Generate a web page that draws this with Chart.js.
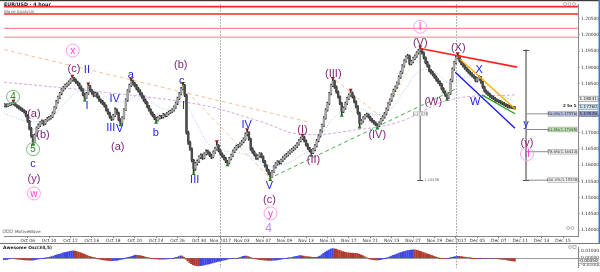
<!DOCTYPE html>
<html>
<head>
<meta charset="utf-8">
<script src="https://cdn.jsdelivr.net/npm/chart.js@4.4.1/dist/chart.umd.min.js"></script>
<style>
  html, body { margin: 0; padding: 0; background: #fff; }
  #wrap { position: relative; width: 600px; height: 272px; overflow: hidden; background: #fff; }
  #main { position: absolute; left: 0; top: 0; }
  #ao { position: absolute; left: 0; top: 243px; }
</style>
</head>
<body>
<div id="wrap">
  <canvas id="main" width="600" height="243"></canvas>
  <canvas id="ao" width="600" height="29"></canvas>
</div>
<script>
// EUR/USD 4h candles, prices in pips above 1.10000 (783 -> 1.17830)
const firstOpen = 783;
const closes = [
  785,782,786,788,789,790,784,780,776,772, 768,765,752,735,712,690,672,692,715,722,
  730,734,728,738,742,745,749,760,778,795, 808,820,831,838,845,849,855,862,868,862,
  855,850,840,832,818,806,820,842,830,822, 815,820,810,800,795,790,782,770,760,748,
  742,752,770,760,740,730,745,770,800,828, 845,858,850,845,835,828,820,810,800,792,
  780,770,760,752,745,738,745,750,748,755, 752,758,762,765,770,778,790,805,820,835,
  845,815,700,670,650,615,590,605,612,625, 630,622,635,642,638,630,625,640,650,660,
  645,635,628,620,612,607,620,630,642,650, 658,660,665,672,680,695,700,680,650,640,
  632,622,628,635,626,612,598,585,575,565, 580,595,604,610,608,615,622,628,632,638,
  643,648,652,658,665,675,682,686,675,662, 652,645,638,648,660,675,690,705,722,745,
  770,790,820,845,858,840,825,810,790,765, 775,790,805,815,822,810,795,780,760,730,
  735,745,752,755,748,740,735,730,725,722, 730,740,748,758,772,788,800,815,830,840,
  852,870,885,905,920,932,935,912,918,928, 935,945,952,955,945,930,915,905,890,885,
  878,870,862,855,848,835,825,815,808,820, 860,895,915,930,935,920,912,905,898,892,
  886,880,875,870,860,865,870,855,840,828, 822,818,812,808,805,800,798,795,792,790,
  786,784,780,779,778,777,776
];
const highs = [
  789,788,789,791,792,794,792,786,783,779, 775,771,767,755,738,716,694,696,718,727,
  734,739,737,741,747,750,753,764,781,799, 812,824,835,842,849,853,859,866,871,870,
  865,858,853,844,835,821,824,847,845,833, 826,824,823,813,804,799,793,785,773,763,
  751,756,776,773,763,743,749,774,804,832, 849,862,861,854,848,839,832,823,814,804,
  795,784,773,764,756,748,749,754,753,759, 758,762,766,769,774,782,794,809,824,839,
  849,848,818,705,674,653,618,609,616,629, 635,634,639,647,646,641,634,644,655,670,
  663,648,638,631,624,615,624,634,646,654, 662,664,669,676,684,699,707,703,683,654,
  644,635,632,639,638,629,615,601,588,578, 584,599,608,614,613,619,626,632,636,642,
  647,652,656,662,669,679,686,690,689,678, 666,655,648,652,664,679,694,709,726,749,
  774,794,824,849,864,861,844,828,813,793, 779,794,809,819,828,825,813,798,783,763,
  740,749,756,760,758,751,744,738,733,728, 734,744,752,762,776,792,804,819,834,844,
  856,874,889,909,924,936,940,938,922,932, 939,949,956,961,958,948,933,919,908,894,
  889,881,874,866,859,851,838,828,818,824, 864,899,919,934,940,938,924,915,909,901,
  895,889,884,878,873,869,874,873,858,843, 831,826,821,815,812,808,804,801,799,795,
  793,789,787,784,782,781,780
];
const lows = [
  779,778,780,783,784,785,781,776,772,768, 764,760,748,731,708,685,666,670,689,712,
  718,726,722,725,734,738,741,746,757,774, 790,804,816,827,834,840,845,851,858,857,
  851,845,835,827,813,802,804,817,826,817, 810,811,806,796,790,786,778,766,756,744,
  737,739,749,756,736,726,727,742,767,796, 824,841,846,840,831,824,815,806,796,788,
  776,766,756,748,740,734,735,741,743,744, 748,749,754,758,761,766,774,786,801,816,
  831,810,695,664,645,610,576,584,600,608, 620,618,619,631,633,626,620,622,636,646,
  641,631,624,616,608,603,604,616,626,638, 646,653,656,661,668,676,690,676,645,636,
  628,618,618,624,622,608,594,581,570,558, 562,577,591,600,603,604,611,618,624,628,
  634,639,644,648,654,661,671,678,671,658, 648,641,632,635,644,656,671,686,701,718,
  741,766,786,816,841,836,821,806,786,755, 761,771,786,801,811,806,791,776,756,719,
  726,731,741,748,744,736,731,726,721,716, 718,726,736,744,754,768,784,796,811,826,
  836,848,866,881,901,916,928,908,908,914, 924,931,941,948,941,926,911,901,886,880,
  874,866,858,851,844,831,821,811,804,805, 817,856,891,911,926,916,908,901,894,888,
  882,876,871,866,856,856,861,851,836,824, 818,814,808,804,801,796,794,791,788,786,
  782,780,776,775,774,773,772
];
// Awesome Oscillator (34,5), in units of 0.0001
const aoValues = [
  -25,-22,-18,-14,-10,-8,-9,-12,-15,-18, -20,-23,-26,-28,-30,-31,-30,-27,-22,-17,
  -12,-8,-4,-1,3,8,14,22,30,38, 46,54,62,70,77,84,90,95,100,103,
  100,94,86,77,67,56,46,36,26,17, 9,2,-5,-11,-17,-22,-27,-30,-33,-35,
  -36,-36,-35,-33,-29,-24,-18,-11,-4,3, 10,18,26,34,42,40,36,31,25,19,
  12,6,0,-5,-9,-12,-14,-15,-16,-16, -15,-14,-12,-10,-7,-3,3,10,20,31,
  30,12,-15,-40,-62,-80,-95,-105,-111,-113, -110,-106,-101,-95,-89,-83,-76,-70,-63,-57,
  -50,-44,-38,-32,-26,-20,-14,-8,-4,-6, -8,-5,5,15,25,30,28,20,10,0,
  -6,-11,-16,-20,-24,-27,-30,-32,-34,-35, -34,-32,-29,-26,-22,-18,-14,-10,-6,-2,
  3,8,14,20,26,32,34,31,27,23, 20,17,14,12,10,12,18,30,48,68,
  85,100,115,128,137,134,128,120,110,100, 92,86,80,76,73,70,69,67,63,56,
  46,34,20,6,-6,-15,-21,-25,-27,-28, -26,-22,-16,-9,-1,8,18,28,38,48,
  58,68,77,86,94,101,107,112,116,120, 118,113,106,98,89,80,71,62,53,44,
  34,24,14,5,-2,-6,-8,-9,-8,-4, 3,10,17,22,25,24,21,17,13,9,
  5,1,-2,-4,-5,-6,-5,-4,-5,-6, -6,-7,-7,-8,-8,-9,-10,-12,-15,-19,
  -17,-24,-30,-35,-39,-42,-45
];

const tickLabels = ['Oct 06','Oct 10','Oct 12','Oct 16','Oct 18','Oct 20','Oct 24','Oct 26','Oct 30','Nov 2017',
  'Nov 03','Nov 07','Nov 09','Nov 13','Nov 15','Nov 17','Nov 21','Nov 23','Nov 27','Nov 29',
  'Dec 2017','Dec 05','Dec 07','Dec 11','Dec 13','Dec 15'];
const tickIndex = [13,25,37,49,61,73,85,97,109,121,133,145,157,169,181,193,205,217,229,241,253,265,277,289,301,313];
const monthLines = [121, 253];
const priceTicks = [400,450,500,550,600,650,700,750,800,850,900,950,1000,1050];
const aoTicks = [100, 0, -100];

// horizontal resistance levels
const levelPrices = [1087, 1064, 1020, 993];
// moving averages / helper lines (candle index, pips)
const maLavender = [[-0.26,855],[54,825],[110,785],[143.5,734],[166,695],[199.5,710],[221.8,734],[249.8,801],[286,816]];
const maBlue = [[0,758],[14.8,734],[26,749],[34.4,795],[42.8,831],[51.2,831],[59.6,801],[68,795],[76.4,819],[84.8,785],
  [93.2,770],[99.9,795],[107,734],[115.5,658],[123.9,643],[132.3,637],[140.7,619],[149.1,598],[157.5,604],[165.9,628],
  [174.3,664],[182.7,734],[191.1,770],[199.4,773],[207.8,755],[216.2,770],[224.6,834],[233,891],[241.4,885],[249.8,849],
  [258.2,870],[266.6,861],[275,825],[286.1,795]];
const peachLines = [[[-0.26,955],[171.5,731]], [[99.9,840],[148.5,561]], [[185.5,861],[212.3,743]]];
const paleLine = [[209,716],[233,961]];
const redLine = [[233,958],[287.3,901]];
const yellowLine = [[255.4,925],[286.1,773]];
const blueLine = [[252.6,885],[286.1,713]];
const greenLine = [[267.5,816],[286.1,758]];
const greenDashed = [[148,558],[254,837]];
const measureA = [[233,961],[233,555]];
const measureB = [[292.3,955],[292.3,555]];
const fibLevels = [757.6, 709.5, 641.3, 553.8];
const fibTexts = ['50.0%(1.17576)','61.8%(1.17095)','78.6%(1.16413)','100.0%(1.15538)'];
const highMarks = [[5,797],[38,874],[47,850],[71,865],[100,852],[119,673],[136,710],[167,693],[184,867],[194,831],[233,964],[254,943]];
const lowMarks = [[16,663],[45,799],[65,723],[85,731],[106,573],[125,600],[149,555],[172,629],[189,752],[199,716],[209,713],[248,801]];

// wave labels: index, pips, text, kind (b blue, p purple, k pink circle, g green circle, l lilac)
const waveLabels = [
  [4.8,810,'4','g'], [16.5,758,'(a)','p'], [21.6,694,'(b)','p'], [16,649,'5','g'], [16,604,'c','b'],
  [16.5,558,'(y)','p'], [16.5,513,'w','k'], [38.3,952,'x','k'], [38.9,897,'(c)','p'], [46.2,894,'II','b'],
  [46.2,782,'I','b'], [61.8,804,'IV','b'], [59.6,716,'III','b'], [64.6,713,'V','b'], [63.5,658,'(a)','p'],
  [70.8,880,'a','b'], [84.8,701,'b','b'], [98.8,910,'(b)','p'], [99.3,861,'c','b'], [100.4,782,'I','b'],
  [106.6,555,'III','b'], [135.7,725,'IV','b'], [148.5,537,'V','b'], [148.5,494,'(c)','p'], [149.1,452,'y','k'],
  [148,406,'4','l'], [167,710,'(I)','p'], [173.2,616,'(II)','p'], [184.3,882,'(III)','p'], [208.9,694,'(IV)','p'],
  [233,1025,'I','k'], [233,976,'(V)','p'], [240.3,797,'(W)','p'], [254.3,961,'(X)','p'], [266,894,'X','b'],
  [263.8,795,'W','b'], [292.3,728,'y','b'], [292.8,670,'(y)','p'], [292.8,634,'II','k']
];

const xMin = -0.26, xMax = 321.4;
const yMin = 380.9, yMax = 1094.5;
const aoMin = -141, aoMax = 157;
const fmtPrice = v => (1.1 + v / 10000).toFixed(5);

const opens = [firstOpen].concat(closes.slice(0, closes.length - 1));

function lineSet(points, color, width, dash, order, tension) {
  return {
    type: 'line', data: points.map(p => ({ x: p[0], y: p[1] })),
    borderColor: color, borderWidth: width, borderDash: dash || [],
    pointRadius: 0, fill: false, tension: tension || 0, order: order
  };
}
function markSet(points, color, rot) {
  return {
    type: 'line', data: points.map(p => ({ x: p[0], y: p[1] })), showLine: false,
    pointStyle: 'triangle', rotation: rot, pointRadius: 2.3, backgroundColor: color,
    borderColor: color, borderWidth: 0, order: 0
  };
}

const datasets = [];
levelPrices.forEach((p, i) => {
  const cols = ['#ff2626', '#ff2626', '#ff8a8a', '#ffaaaa'];
  datasets.push(lineSet([[xMin, p], [xMax, p]], cols[i], i === 2 ? 1.1 : 1.6, null, 20));
});
datasets.push(lineSet(maLavender, '#d9a6e6', 1, [3, 2], 15, 0.4));
datasets.push(lineSet(maBlue, '#a9c8f2', 1, [1, 1.5], 15, 0.4));
peachLines.forEach(l => datasets.push(lineSet(l, '#f7c29a', 1, [4, 3], 14)));
datasets.push(lineSet(paleLine, '#e6e2a6', 1, [2, 2], 14));
datasets.push(lineSet(measureA, '#8c8c8c', 1, null, 13));
datasets.push(lineSet(measureB, '#8c8c8c', 1, null, 13));
fibLevels.forEach(f => datasets.push(lineSet([[292.3, f], [304.6, f]], '#8c8c8c', 1, null, 13)));
datasets.push({
  type: 'bar', data: closes.map((c, i) => ({ x: i, y: [lows[i], highs[i]] })),
  backgroundColor: '#2e2e2e', barThickness: 1, grouped: false, order: 8
});
datasets.push({
  type: 'bar', data: closes.map((c, i) => ({ x: i, y: [opens[i], c] })),
  backgroundColor: closes.map((c, i) => c >= opens[i] ? '#a4a4a4' : '#4c4c4c'),
  barThickness: 1.8, grouped: false, order: 7
});
datasets.push(lineSet(greenDashed, '#4caf50', 1, [4, 3], 4));
datasets.push(lineSet(redLine, '#ff2020', 1.6, null, 3));
datasets.push(lineSet(yellowLine, '#ffb300', 1.4, null, 3));
datasets.push(lineSet(blueLine, '#1a1aff', 1.4, null, 3));
datasets.push(lineSet(greenLine, '#22a022', 1.3, null, 3));
datasets.push(markSet(highMarks, '#8b1e1e', 180));
datasets.push(markSet(lowMarks, '#1e7d1e', 0));

const kindColor = { b: '#2323e8', p: '#82287c', k: '#ff35dc', g: '#2a8f2a', l: '#b48de6' };

const mainOverlay = {
  id: 'mainOverlay',
  beforeDatasetsDraw(chart) {
    const { ctx, chartArea: a, scales: { x } } = chart;
    ctx.save();
    ctx.strokeStyle = '#9a9a9a'; ctx.lineWidth = 1; ctx.setLineDash([1.5, 1.5]);
    monthLines.forEach(m => {
      const px = Math.round(x.getPixelForValue(m)) + 0.5;
      ctx.beginPath(); ctx.moveTo(px, a.top); ctx.lineTo(px, 243); ctx.stroke();
    });
    ctx.restore();
  },
  afterDatasetsDraw(chart) {
    const { ctx, chartArea: a, scales: { x, y } } = chart;
    ctx.save();
    // measure caps
    ctx.strokeStyle = '#555'; ctx.lineWidth = 1;
    [[233, 555], [292.3, 555], [292.3, 955]].forEach(p => {
      const px = x.getPixelForValue(p[0]), py = Math.round(y.getPixelForValue(p[1])) + 0.5;
      ctx.beginPath(); ctx.moveTo(px - 3, py); ctx.lineTo(px + 3, py); ctx.stroke();
    });
    // small measure texts
    ctx.font = '3.6px "DejaVu Sans"'; ctx.fillStyle = '#666'; ctx.textBaseline = 'middle'; ctx.textAlign = 'left';
    ctx.fillText('1.15538', x.getPixelForValue(233) + 4, y.getPixelForValue(555));
    const bx = x.getPixelForValue(233), by = y.getPixelForValue(757.6);
    ctx.fillStyle = '#f2f2f2'; ctx.fillRect(bx - 7, by - 2, 14, 4);
    ctx.strokeStyle = '#aaa'; ctx.lineWidth = 0.5; ctx.strokeRect(bx - 7, by - 2, 14, 4);
    ctx.fillStyle = '#666'; ctx.textAlign = 'center'; ctx.fillText('1.17576', bx, by);
    // fib boxes
    const fibFill = ['#b8bee0', '#bfe6b0', '#e8e8e8', '#f2f2f2'];
    fibLevels.forEach((f, i) => {
      const fx = x.getPixelForValue(304.6), fy = y.getPixelForValue(f);
      ctx.fillStyle = fibFill[i]; ctx.fillRect(fx, fy - 2.4, 29, 4.8);
      ctx.strokeStyle = '#999'; ctx.lineWidth = 0.5; ctx.strokeRect(fx, fy - 2.4, 29, 4.8);
      ctx.fillStyle = '#333'; ctx.font = '3.7px "DejaVu Sans"'; ctx.textAlign = 'center';
      ctx.fillText(fibTexts[i], fx + 14.5, fy + 0.2);
    });
    ctx.font = 'bold 4.2px "DejaVu Sans"'; ctx.fillStyle = '#222'; ctx.textAlign = 'right';
    ctx.fillText('2 to 1', a.right - 1.5, y.getPixelForValue(781));
    // wave labels
    ctx.textAlign = 'center'; ctx.textBaseline = 'middle';
    waveLabels.forEach(w => {
      const px = x.getPixelForValue(w[0]), py = y.getPixelForValue(w[1]);
      const k = w[3];
      if (k === 'k' || k === 'g') {
        ctx.beginPath(); ctx.arc(px, py, 6.5, 0, Math.PI * 2);
        ctx.strokeStyle = k === 'k' ? '#ff9cec' : '#6cbf6c'; ctx.lineWidth = 1; ctx.stroke();
        ctx.font = '10px "Liberation Sans"';
      } else if (k === 'l') {
        ctx.font = '12px "Liberation Sans"';
      } else {
        ctx.font = '11px "Liberation Sans"';
      }
      ctx.fillStyle = kindColor[k];
      ctx.fillText(w[2], px, py + 0.5);
    });
    // titles
    ctx.textAlign = 'left';
    ctx.fillStyle = '#222'; ctx.font = 'bold 4.8px "DejaVu Sans"'; ctx.fillText('EUR/USD - 4 hour', 4, 5);
    ctx.fillStyle = '#666'; ctx.font = '4.2px "DejaVu Sans"'; ctx.fillText('Wave Analysis', 4, 12);
    ctx.fillStyle = '#444'; ctx.font = '4.2px "DejaVu Sans"'; ctx.fillText('MotiveWave', 15, 231.5);
    ctx.strokeStyle = '#888'; ctx.lineWidth = 0.6;
    [3, 6.5, 10].forEach(sx => ctx.strokeRect(sx, 230, 2.5, 2.5));
    // chart zoom icons
    [565, 569.5, 574].forEach(cx => { ctx.beginPath(); ctx.arc(cx, 4, 1.5, 0, Math.PI * 2); ctx.stroke(); });
    [568, 572.5].forEach(cx => { ctx.beginPath(); ctx.arc(cx, 228, 1.5, 0, Math.PI * 2); ctx.stroke(); });
    // axis value boxes
    const boxes = [[804, '1.18041', '#eeeeee'], [778, '1.17760', '#c9e2f8'], [757.6, '1.17576', '#8f96cf']];
    boxes.forEach(b => {
      const py = y.getPixelForValue(b[0]);
      ctx.fillStyle = b[2]; ctx.fillRect(a.right + 0.5, py - 2.6, 19.5, 5.2);
      ctx.strokeStyle = '#777'; ctx.lineWidth = 0.5; ctx.strokeRect(a.right + 0.5, py - 2.6, 19.5, 5.2);
      ctx.fillStyle = '#222'; ctx.font = '4.2px "DejaVu Sans"'; ctx.textAlign = 'center';
      ctx.fillText(b[1], a.right + 10.2, py + 0.2);
    });
    // frame
    ctx.fillStyle = '#3a3a3a'; ctx.fillRect(0, 0, 600, 1.2);
    ctx.fillStyle = '#4a78c8'; ctx.fillRect(598.5, 0, 1.5, 243);
    ctx.restore();
  }
};

new Chart(document.getElementById('main'), {
  type: 'bar',
  data: { datasets: datasets },
  options: {
    responsive: false, animation: false, events: [],
    layout: { padding: { left: 3, top: 1, right: 0, bottom: 0 } },
    plugins: { legend: { display: false }, tooltip: { enabled: false } },
    scales: {
      x: {
        type: 'linear', min: xMin, max: xMax, offset: false,
        afterBuildTicks: s => { s.ticks = tickIndex.map(v => ({ value: v })); },
        afterFit: s => { s.height = 6.5; },
        ticks: { autoSkip: false, maxRotation: 0, padding: 0, font: { size: 4.4, family: 'DejaVu Sans' }, color: '#333',
          callback: (v, i) => tickLabels[i] },
        grid: { drawOnChartArea: false, offset: false, tickLength: 1.5, color: '#777' },
        border: { color: '#888' }
      },
      y: {
        position: 'right', min: yMin, max: yMax,
        afterBuildTicks: s => { s.ticks = priceTicks.map(v => ({ value: v })); },
        afterFit: s => { s.width = 22; },
        ticks: { padding: 1.5, font: { size: 4.4, family: 'DejaVu Sans' }, color: '#333', callback: v => fmtPrice(v) },
        grid: { drawOnChartArea: false, tickLength: 1.5, color: '#777' },
        border: { color: '#888' }
      }
    }
  },
  plugins: [mainOverlay]
});

const aoOverlay = {
  id: 'aoOverlay',
  beforeDatasetsDraw(chart) {
    const { ctx, chartArea: a, scales: { x, y } } = chart;
    ctx.save();
    ctx.strokeStyle = '#9a9a9a'; ctx.lineWidth = 1; ctx.setLineDash([1.5, 1.5]);
    monthLines.forEach(m => {
      const px = Math.round(x.getPixelForValue(m)) + 0.5;
      ctx.beginPath(); ctx.moveTo(px, 0); ctx.lineTo(px, a.bottom); ctx.stroke();
    });
    ctx.setLineDash([]);
    ctx.strokeStyle = '#999';
    const zy = Math.round(y.getPixelForValue(0)) + 0.5;
    ctx.beginPath(); ctx.moveTo(a.left, zy); ctx.lineTo(a.right, zy); ctx.stroke();
    ctx.restore();
  },
  afterDatasetsDraw(chart) {
    const { ctx, chartArea: a, scales: { y } } = chart;
    ctx.save();
    ctx.fillStyle = '#777'; ctx.fillRect(0, 0, 600, 1);
    ctx.fillStyle = '#222'; ctx.font = 'bold 4.4px "DejaVu Sans"'; ctx.textBaseline = 'middle';
    ctx.fillText('Awesome Osc(34,5)', 3, 4.5);
    const last = aoValues[aoValues.length - 1];
    const py = y.getPixelForValue(last);
    ctx.fillStyle = '#eeeeee'; ctx.fillRect(a.right + 0.5, py - 2.4, 19.5, 4.8);
    ctx.strokeStyle = '#777'; ctx.lineWidth = 0.5; ctx.strokeRect(a.right + 0.5, py - 2.4, 19.5, 4.8);
    ctx.fillStyle = '#222'; ctx.font = '4.2px "DejaVu Sans"'; ctx.textAlign = 'center';
    ctx.fillText((last / 10000).toFixed(5), a.right + 10.2, py + 0.2);
    ctx.strokeStyle = '#888'; ctx.lineWidth = 0.6;
    ctx.beginPath(); ctx.arc(570, 4, 1.5, 0, Math.PI * 2); ctx.stroke();
    ctx.strokeRect(573, 2.5, 3, 3);
    ctx.restore();
  }
};

new Chart(document.getElementById('ao'), {
  type: 'bar',
  data: {
    datasets: [{
      data: aoValues.map((v, i) => ({ x: i, y: v })),
      backgroundColor: aoValues.map((v, i) => (i > 0 && v < aoValues[i - 1]) ? '#b0392e' : '#3f46e8'),
      barThickness: 1.35, grouped: false
    }]
  },
  options: {
    responsive: false, animation: false, events: [],
    layout: { padding: { left: 3, top: 0, right: 0, bottom: 0 } },
    plugins: { legend: { display: false }, tooltip: { enabled: false } },
    scales: {
      x: { type: 'linear', min: xMin, max: xMax, offset: false, display: false },
      y: {
        position: 'right', min: aoMin, max: aoMax,
        afterBuildTicks: s => { s.ticks = aoTicks.map(v => ({ value: v })); },
        afterFit: s => { s.width = 22; },
        ticks: { padding: 1.5, font: { size: 4.4, family: 'DejaVu Sans' }, color: '#333', callback: v => (v / 10000).toFixed(5) },
        grid: { drawOnChartArea: false, tickLength: 1.5, color: '#777' },
        border: { color: '#888' }
      }
    }
  },
  plugins: [aoOverlay]
});
</script>
</body>
</html>
